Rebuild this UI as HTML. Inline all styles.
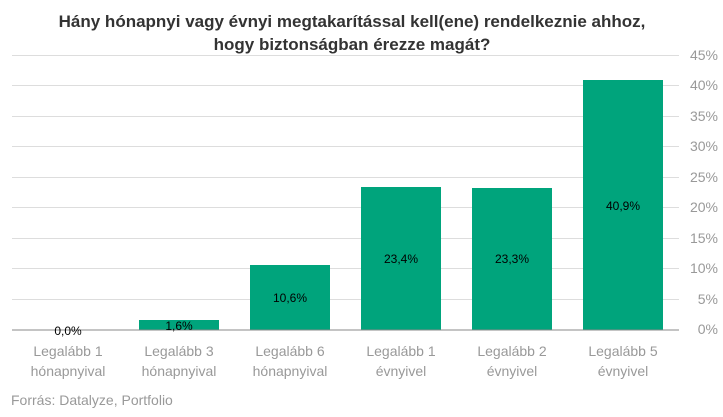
<!DOCTYPE html>
<html><head><meta charset="utf-8"><style>
body{margin:0;background:#fff;width:723px;height:412px;overflow:hidden;font-family:"Liberation Sans",sans-serif}
</style></head><body>
<svg width="723" height="412" xmlns="http://www.w3.org/2000/svg" font-family="Liberation Sans, sans-serif">
<text x="352" y="27" text-anchor="middle" font-size="17" font-weight="bold" fill="#333">Hány hónapnyi vagy évnyi megtakarítással kell(ene) rendelkeznie ahhoz,</text>
<text x="352" y="50" text-anchor="middle" font-size="17" font-weight="bold" fill="#333">hogy biztonságban érezze magát?</text>
<g stroke="#ddd" stroke-width="1">
<line x1="12" x2="679" y1="55.5" y2="55.5"/><line x1="12" x2="679" y1="85.5" y2="85.5"/>
<line x1="12" x2="679" y1="116.5" y2="116.5"/><line x1="12" x2="679" y1="146.5" y2="146.5"/>
<line x1="12" x2="679" y1="177.5" y2="177.5"/><line x1="12" x2="679" y1="207.5" y2="207.5"/>
<line x1="12" x2="679" y1="238.5" y2="238.5"/><line x1="12" x2="679" y1="268.5" y2="268.5"/>
<line x1="12" x2="679" y1="299.5" y2="299.5"/>
</g>
<g font-size="14" fill="#999" text-anchor="end">
<text x="718" y="60">45%</text><text x="718" y="90">40%</text><text x="718" y="121">35%</text>
<text x="718" y="151">30%</text><text x="718" y="182">25%</text><text x="718" y="212">20%</text>
<text x="718" y="243">15%</text><text x="718" y="273">10%</text><text x="718" y="304">5%</text>
<text x="718" y="334">0%</text>
</g>
<g fill="#00a47c">
<rect x="139" y="320" width="80" height="10"/>
<rect x="250" y="265" width="80" height="65"/>
<rect x="361" y="187" width="80" height="143"/>
<rect x="472" y="188" width="80" height="142"/>
<rect x="583" y="80" width="80" height="250"/>
</g>
<line x1="12" x2="679" y1="330" y2="330" stroke="#888" stroke-width="1"/>
<g font-size="12" fill="#000" text-anchor="middle">
<text x="68" y="335">0,0%</text><text x="179" y="330">1,6%</text>
<text x="290" y="302">10,6%</text><text x="401" y="263">23,4%</text>
<text x="512" y="263">23,3%</text><text x="623" y="210">40,9%</text>
</g>
<g font-size="14" fill="#999" text-anchor="middle">
<text x="68" y="356">Legalább 1</text><text x="68" y="376">hónapnyival</text>
<text x="179" y="356">Legalább 3</text><text x="179" y="376">hónapnyival</text>
<text x="290" y="356">Legalább 6</text><text x="290" y="376">hónapnyival</text>
<text x="401" y="356">Legalább 1</text><text x="401" y="376">évnyivel</text>
<text x="512" y="356">Legalább 2</text><text x="512" y="376">évnyivel</text>
<text x="623" y="356">Legalább 5</text><text x="623" y="376">évnyivel</text>
</g>
<text x="11" y="405" font-size="14" fill="#999">Forrás: Datalyze, Portfolio</text>
</svg>
</body></html>
